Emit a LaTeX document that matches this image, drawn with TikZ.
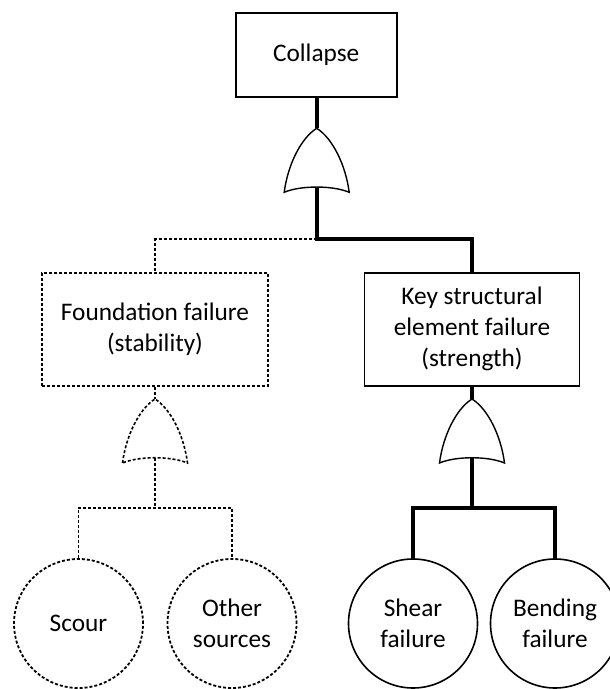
\documentclass[tikz,border=0pt]{standalone}
\usepackage{fontspec}
\setmainfont{Carlito}
\begin{document}
\begin{tikzpicture}[x=1bp,y=1bp,
  txt/.style={font=\fontsize{25.3bp}{31bp}\selectfont, align=center, text=black},
  boxsolid/.style={txt, draw, line width=1.8bp, rectangle, inner sep=0pt},
  boxdash/.style={boxsolid, dash pattern=on 3bp off 2bp},
  circsolid/.style={txt, draw, line width=1.6bp, circle, minimum size=129bp, inner sep=0pt},
  circdash/.style={circsolid, line width=1.8bp, dash pattern=on 3bp off 2bp},
  thickline/.style={line width=4bp},
  dashline/.style={line width=1.8bp, dash pattern=on 3bp off 2bp},
  orgate/.pic={
    \coordinate (-top) at (0,0);
    \coordinate (-base) at (0,-59.75);
    \draw[fill=white, pic actions] (-32.5,-64) .. controls (-29,-37) and (-16,-10) .. (0,0)
      .. controls (16,-10) and (29,-37) .. (32.5,-64)
      .. controls (16,-57) and (-16,-57) .. cycle;
  }
]
\path[use as bounding box] (0,0) rectangle (610,689);
\clip (0,0) rectangle (610,689);

% nodes
\node[boxsolid, minimum width=161bp, minimum height=84bp] (collapse) at (316.2,634.3) {Collapse};
\node[boxdash, minimum width=226bp, minimum height=113bp] (found) at (155,359.5) {Foundation failure\\(stability)};
\node[boxsolid, minimum width=215bp, minimum height=113bp] (key) at (472,359.8) {Key structural\\element failure\\(strength)};

\node[circdash] (scour) at (78.5,65.5) {Scour};
\node[circdash] (other) at (232,65.5) {Other\\sources};
\node[circsolid] (shear) at (413,65.5) {Shear\\failure};
\node[circsolid] (bend) at (555,65.5) {Bending\\failure};

\coordinate (j1) at (316.7,449.7);
\coordinate (j2) at (155,181);
\coordinate (j3) at (472,181);

% connectors (drawn before gates)
\draw[thickline] (collapse.south -| j1) -- (316.7,560.7);
\draw[dashline] (j1) -| (found.north);
\draw[thickline] (316.7,501) -- (j1) -| (key.north);
\draw[dashline] (found.south) -- (155,290);
\draw[thickline] (key.south) -- (472,290);
\draw[dashline] (155,231) -- (j2);
\draw[dashline] (scour.north) |- (j2) -| (other.north);
\draw[thickline] (472,231) -- (j3);
\draw[thickline] (shear.north) |- (j3) -| (bend.north);

% gates
\pic (g1) [line width=1.4bp] at (316.7,560.7) {orgate};
\pic (g2) [line width=1.6bp, dash pattern=on 3bp off 2bp] at (155,290) {orgate};
\pic (g3) [line width=1.4bp] at (472,290) {orgate};
\end{tikzpicture}
\end{document}
